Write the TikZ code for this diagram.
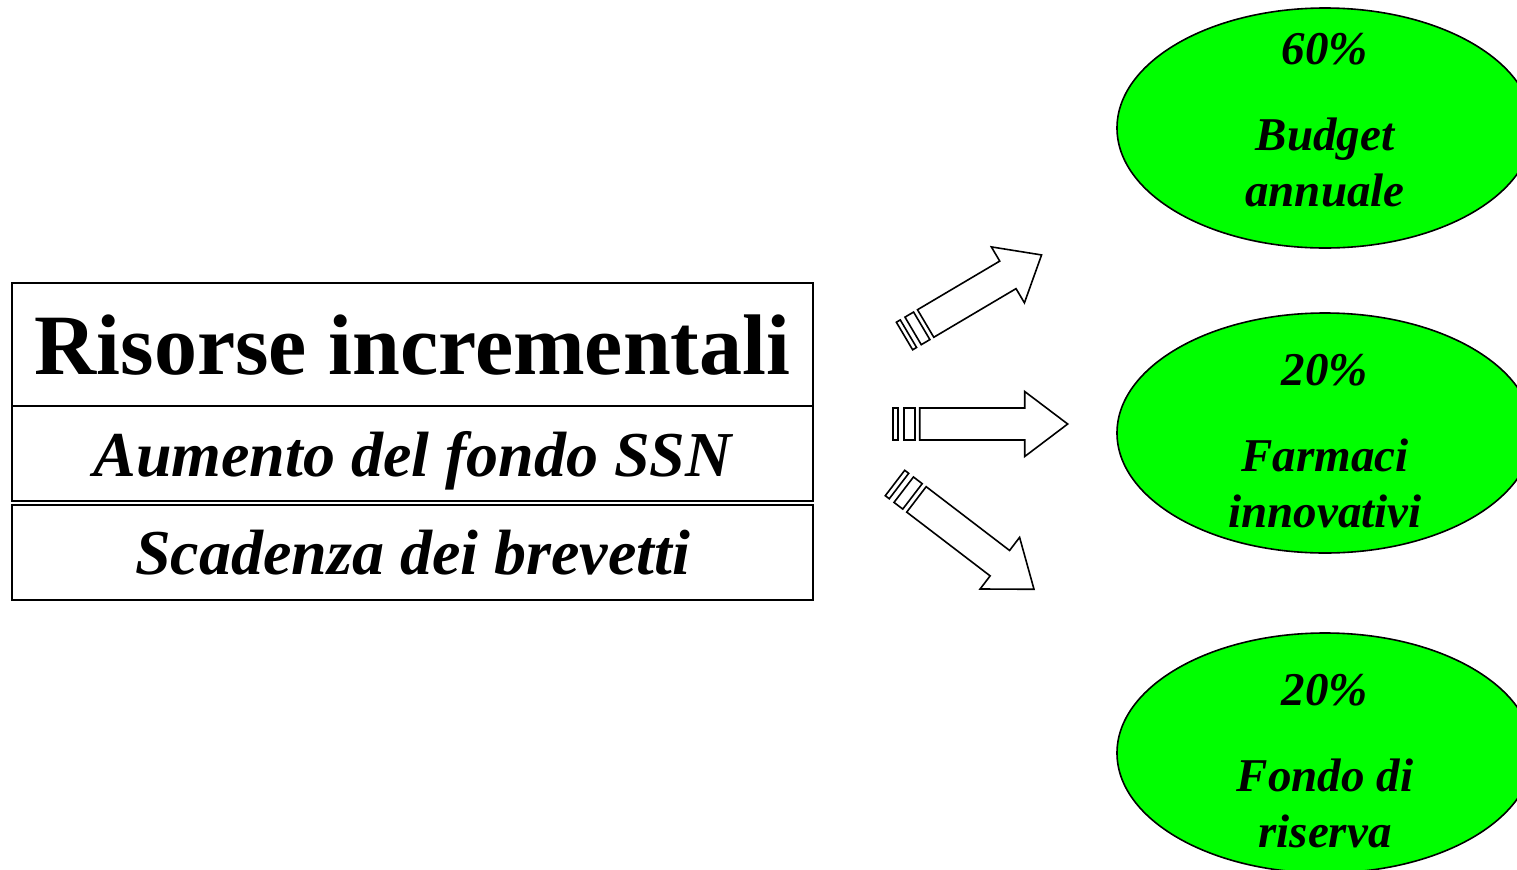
\documentclass[tikz,border=0pt]{standalone}
\usepackage{fontspec}
\setmainfont{Liberation Serif}
\usetikzlibrary{shapes.geometric,positioning}

\tikzset{
  row/.style={draw, rectangle, line width=1pt, minimum width=400.5pt, minimum height=47.5pt,
    inner sep=0pt, outer sep=0pt, text depth=0pt, font=\bfseries\itshape\fontsize{32}{36}\selectfont},
  goal/.style={draw, ellipse, fill=green, line width=0.8pt, minimum width=208pt, minimum height=120pt, inner sep=0pt},
  share/.style={align=center, inner sep=0pt, font=\bfseries\itshape\fontsize{23.5}{28}\selectfont},
  pics/tailarrow/.style={code={
    \draw (0,-16) rectangle (5,16);
    \draw (11,-16) rectangle (22,16);
    \draw (27,-16) -- (132,-16) -- (132,-32.5) -- (175,0) -- (132,32.5) -- (132,16) -- (27,16) -- cycle;
  }}
}

\begin{document}
\begin{tikzpicture}[x=0.5pt, y=-0.5pt]
\useasboundingbox (0,0) rectangle (1517,869);

% left box
\node[row, minimum height=61.5pt, font=\bfseries\fontsize{43}{50}\selectfont] (title) at (412.5,344.5) {Risorse incrementali};
\node[row, below=0pt of title] (fondo) {Aumento del fondo SSN};
\node[row, below=2pt of fondo] (brevetti) {Scadenza dei brevetti};

% arrows
\pic[line width=0.8pt, rotate=30.6, xscale=0.91] at (904.5,336) {tailarrow};
\pic[line width=0.8pt] at (892.7,424) {tailarrow};
\pic[line width=0.8pt, rotate=-37.4] at (895,483) {tailarrow};

% shares
\node[goal] (budget) at (1325,128) {};
\node[goal] (farmaci) at (1325,433) {};
\node[goal] (riserva) at (1325,753) {};
\node[share, yshift=4pt] (budgettext) at (budget.center) {60\%\\[15pt]Budget\\annuale};
\node[share, yshift=-4pt] (farmacitext) at (farmaci.center) {20\%\\[15pt]Farmaci\\innovativi};
\node[share, yshift=-4pt] (riservatext) at (riserva.center) {20\%\\[15pt]Fondo di\\riserva};
\end{tikzpicture}
\end{document}
